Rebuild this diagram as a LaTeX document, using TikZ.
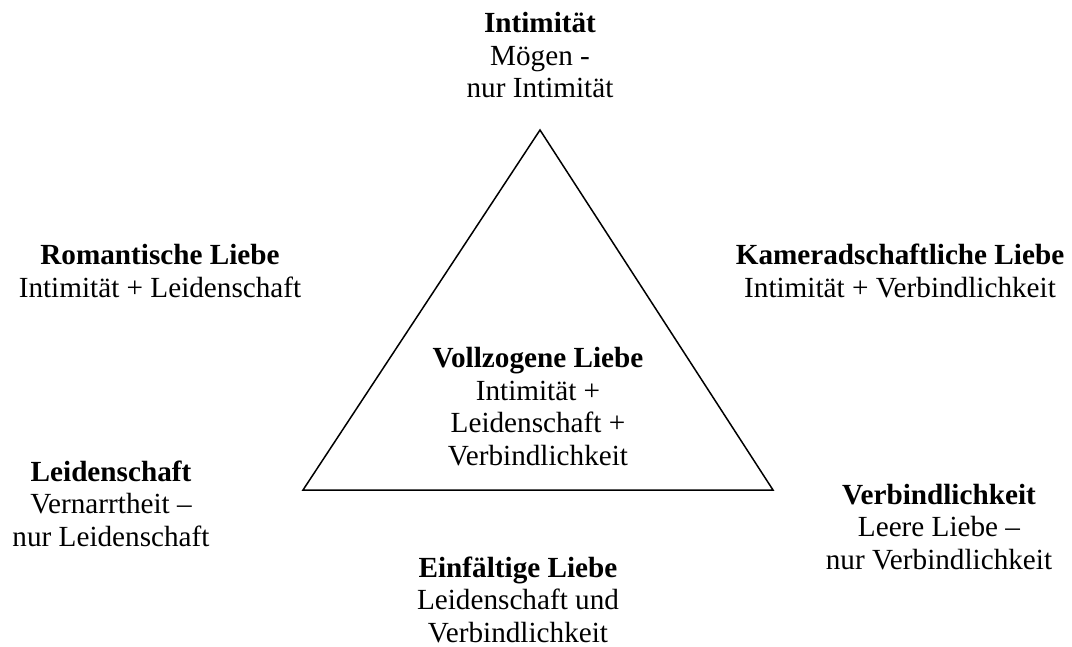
\documentclass[tikz,border=0pt]{standalone}
\usepackage{fontspec}
\setmainfont{Liberation Serif}
\tikzset{
    lbl/.style={align=center, anchor=base, inner sep=0pt,
        font=\fontsize{14.6}{16.25}\selectfont},
}
\begin{document}
\begin{tikzpicture}[x=0.5pt,y=-0.5pt]
        \useasboundingbox (0,0) rectangle (1072,647);
        \coordinate (top) at (540,130);
        \coordinate (left) at (303,490);
        \coordinate (right) at (773,490);
        \draw[line width=0.75pt, line join=miter] (top) -- (left) -- (right) -- cycle;
        % anchor=base sits on the last line
        \node[lbl] (intim) at (540,98) {\textbf{Intimität}\\Mögen -\\nur Intimität};
        \node[lbl] (roman) at (160,297) {\textbf{Romantische Liebe}\\Intimität + Leidenschaft};
        \node[lbl] (kamer) at (900,297) {\textbf{Kameradschaftliche Liebe}\\Intimität + Verbindlichkeit};
        \node[lbl] (vollz) at (538,465) {\textbf{Vollzogene Liebe}\\Intimität +\\Leidenschaft +\\Verbindlichkeit};
        \node[lbl] (leid) at (111,546) {\textbf{Leidenschaft}\\Vernarrtheit –\\nur Leidenschaft};
        \node[lbl] (verb) at (939,569) {\textbf{Verbindlichkeit}\\Leere Liebe –\\nur Verbindlichkeit};
        \node[lbl] (einf) at (518,642) {\textbf{Einfältige Liebe}\\Leidenschaft und\\Verbindlichkeit};
\end{tikzpicture}
\end{document}
